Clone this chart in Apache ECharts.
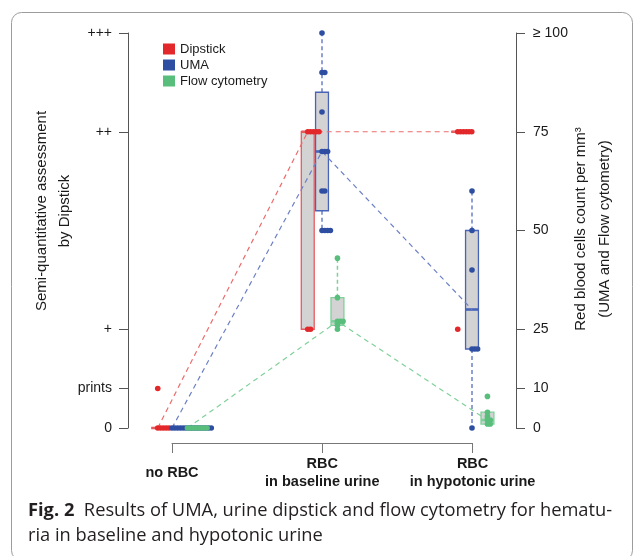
<!DOCTYPE html>
<html><head><meta charset="utf-8">
<script src="https://cdn.jsdelivr.net/npm/echarts@6/dist/echarts.min.js"></script>
<style>html,body{margin:0;padding:0;background:#fff}#c{width:636px;height:556px}</style>
</head><body><div id="c"></div>
<script>
// ---- data ----
const categories = ['no RBC', 'RBC\nin baseline urine', 'RBC\nin hypotonic urine'];
const leftTickValues = [0, 10, 25, 75, 100];
const leftTickLabels = ['0', 'prints', '+', '++', '+++'];
const rightTickValues = [0, 10, 25, 50, 75, 100];
const rightTickLabels = ['0', '10', '25', '50', '75', '\u2265 100'];

// individual observations per group
const dipstickPoints = [
  [0, 0, 0, 0, 0, 10],
  [75, 75, 75, 75, 75, 25, 25],
  [75, 75, 75, 75, 75, 75, 25]
];
const umaPoints = [
  [0, 0, 0, 0, 0, 0, 0, 0, 0, 0, 0, 0, 0, 0, 0],
  [100, 90, 90, 80, 70, 70, 70, 60, 60, 50, 50, 50, 50],
  [60, 50, 40, 20, 20, 20, 0]
];
const flowPoints = [
  [0, 0, 0, 0, 0, 0, 0, 0],
  [43, 33, 27, 27, 27, 26, 25],
  [8, 4, 3, 2, 2, 1, 1]
];
// box statistics [min, Q1, median, Q3, max]
const dipstickBox = [[0, 0, 0, 0, 0], [25, 25, 75, 75, 75], [75, 75, 75, 75, 75]];
const umaBox = [[0, 0, 0, 0, 0], [50, 55, 70, 85, 100], [0, 20, 30, 50, 60]];
const flowBox = [[0, 0, 0, 0, 0], [25, 26, 27, 33, 43], [1, 1, 2, 4, 4]];

// ---- styling / layout ----
const OFFSETS = { dip: -0.095, uma: 0, flow: 0.103 };
const BOX_HALF = 0.043;
const STACK_STEP = 0.0187;
const COL = {
  dip: '#e2282b', uma: '#2e4ea2', flow: '#59be7b',
  dipBorder: '#e85a5c', umaBorder: '#4764b8', flowBorder: '#80cf9a',
  dipLine: '#ec6c6c', umaLine: '#6c80c6', flowLine: '#80d09a'
};

function stackPts(groups, offset) {
  const out = [];
  groups.forEach((vals, gi) => {
    const counts = {};
    vals.forEach(v => {
      const k = counts[v] || 0; counts[v] = k + 1;
      out.push([gi + offset + k * STACK_STEP, v]);
    });
  });
  return out;
}
function boxData(box, offset) {
  return box.map((b, gi) => [gi + offset].concat(b));
}
function medLine(box, offset) {
  return box.map((b, gi) => [gi + offset, b[2]]);
}
function makeBoxRender(col, whiskerCol) {
  return function (params, api) {
    const x = api.value(0);
    const v = [1, 2, 3, 4, 5].map(i => api.value(i));
    const L = api.coord([x - BOX_HALF, v[2]])[0];
    const R = api.coord([x + BOX_HALF, v[2]])[0];
    const cx = api.coord([x, v[2]])[0];
    const y = v.map(val => api.coord([x, val])[1]);
    return {
      type: 'group', children: [
        { type: 'line', shape: { x1: cx, y1: y[3], x2: cx, y2: y[4] }, style: { stroke: whiskerCol, lineWidth: 1.5, lineDash: [4, 3] } },
        { type: 'line', shape: { x1: cx, y1: y[1], x2: cx, y2: y[0] }, style: { stroke: whiskerCol, lineWidth: 1.5, lineDash: [4, 3] } },
        { type: 'rect', shape: { x: L, y: y[3], width: R - L, height: y[1] - y[3] }, style: { fill: '#d3d3d3', stroke: col, lineWidth: 1.3 } },
        { type: 'line', shape: { x1: L, y1: y[2], x2: R, y2: y[2] }, style: { stroke: col, lineWidth: 2.6 } }
      ]
    };
  };
}

const FONT = 'Liberation Sans, Arial, sans-serif';
const chart = echarts.init(document.getElementById('c'), null, { renderer: 'canvas' });

const boxSeries = [
  ['dip', dipstickBox], ['uma', umaBox], ['flow', flowBox]
].map(([k, box]) => ({
  type: 'custom', name: k + 'Box', xAxisIndex: 0, yAxisIndex: 0, z: 2,
  renderItem: makeBoxRender(COL[k + 'Border'], COL[k + 'Line']),
  encode: { x: 0, y: [1, 2, 3, 4, 5] },
  data: boxData(box, OFFSETS[k]), silent: true
}));
const lineSeries = [
  ['dip', dipstickBox], ['uma', umaBox], ['flow', flowBox]
].map(([k, box]) => ({
  type: 'line', name: k + 'Line', xAxisIndex: 0, yAxisIndex: 0, z: 3,
  symbol: 'none', silent: true,
  lineStyle: { color: COL[k + 'Line'], width: 1.2, type: [5, 4] },
  data: medLine(box, OFFSETS[k])
}));
const pointSeries = [
  ['Dipstick', 'dip', dipstickPoints], ['UMA', 'uma', umaPoints], ['Flow cytometry', 'flow', flowPoints]
].map(([name, k, pts]) => ({
  type: 'scatter', name: name, xAxisIndex: 0, yAxisIndex: 0, z: 4,
  symbol: 'circle', symbolSize: 5.6, itemStyle: { color: COL[k], opacity: 1 },
  data: stackPts(pts, OFFSETS[k])
}));

const option = {
  animation: false,
  backgroundColor: '#fff',
  grid: [
    { left: 128, right: 120, top: 33, bottom: 128 },
    { left: 172, width: 300.6, top: 442, height: 1 }
  ],
  xAxis: [
    { type: 'value', gridIndex: 0, min: -0.293333, max: 2.293333, show: false },
    {
      type: 'category', gridIndex: 1, data: categories, boundaryGap: false,
      axisLine: { show: true, lineStyle: { color: '#777', width: 1 } },
      axisTick: { show: true, length: 10, lineStyle: { color: '#777' } },
      axisLabel: { interval: 0, margin: 30, verticalAlign: 'middle', fontWeight: 'bold', fontSize: 14.5, lineHeight: 18, color: '#1a1a1a', fontFamily: FONT }
    }
  ],
  yAxis: [
    {
      type: 'value', gridIndex: 0, position: 'left', min: 0, max: 100, interval: 5,
      splitLine: { show: false },
      axisLine: { show: true, onZero: false, lineStyle: { color: '#555', width: 1 } },
      axisTick: { show: true, length: 9, customValues: leftTickValues, lineStyle: { color: '#555' } },
      axisLabel: { customValues: leftTickValues, margin: 16, fontSize: 14, color: '#1a1a1a', fontFamily: FONT,
        formatter: v => leftTickLabels[leftTickValues.indexOf(v)] }
    },
    {
      type: 'value', gridIndex: 0, position: 'right', min: 0, max: 100, interval: 5,
      splitLine: { show: false },
      axisLine: { show: true, onZero: false, lineStyle: { color: '#555', width: 1 } },
      axisTick: { show: true, length: 9, customValues: rightTickValues, lineStyle: { color: '#555' } },
      axisLabel: { customValues: rightTickValues, margin: 17, fontSize: 14, color: '#1a1a1a', fontFamily: FONT,
        formatter: v => rightTickLabels[rightTickValues.indexOf(v)] }
    },
    { type: 'value', gridIndex: 1, show: false }
  ],
  legend: {
    orient: 'vertical', left: 163, top: 42, padding: 0, itemWidth: 12, itemHeight: 11, itemGap: 2,
    icon: 'rect', selectedMode: false,
    textStyle: { fontSize: 13, lineHeight: 14, color: '#1a1a1a', fontFamily: FONT },
    data: ['Dipstick', 'UMA', 'Flow cytometry']
  },
  graphic: [
    { type: 'rect', z: 0, silent: true, shape: { x: 11.5, y: 12.5, width: 621, height: 548, r: 10 },
      style: { fill: 'none', stroke: '#9c9c9c', lineWidth: 1 } },
    { type: 'text', x: 53.5, y: 211, rotation: Math.PI / 2, silent: true,
      style: { text: 'Semi-quantitative assessment\nby Dipstick', fontSize: 15, lineHeight: 23, fontFamily: FONT, fill: '#1a1a1a', align: 'center', verticalAlign: 'middle' } },
    { type: 'text', x: 592.5, y: 229, rotation: Math.PI / 2, silent: true,
      style: { text: 'Red blood cells count per mm\u00b3\n(UMA and Flow cytometry)', fontSize: 15, lineHeight: 24, fontFamily: FONT, fill: '#1a1a1a', align: 'center', verticalAlign: 'middle' } },
    { type: 'text', x: 28, y: 498, silent: true,
      style: { text: '{b|Fig. 2}  Results of UMA, urine dipstick and flow cytometry for hematu-\nria in baseline and hypotonic urine',
        fontSize: 18.3, lineHeight: 25, fontFamily: 'Open Sans, sans-serif', fill: '#231f20',
        rich: { b: { fontWeight: 'bold', fontSize: 18.3, lineHeight: 25, fontFamily: 'Open Sans, sans-serif', fill: '#231f20' } } } }
  ],
  series: boxSeries.concat(lineSeries, pointSeries)
};
chart.setOption(option);
</script>
</body></html>
